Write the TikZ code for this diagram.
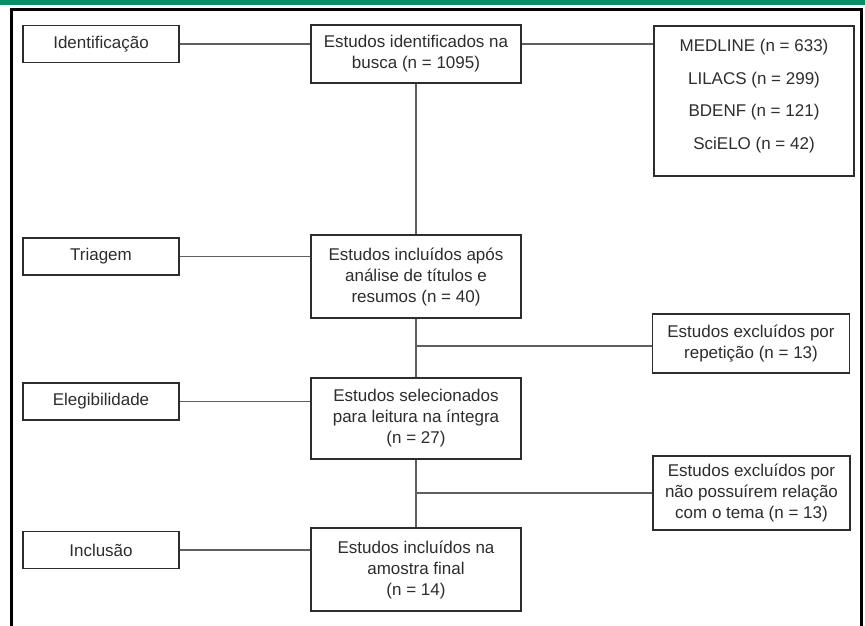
\documentclass[tikz,border=0pt]{standalone}
\usepackage{fontspec}
\setmainfont{Liberation Sans}
\definecolor{topgreen}{RGB}{8,143,104}
\definecolor{txt}{RGB}{45,45,45}
\definecolor{boxline}{RGB}{45,45,45}
\definecolor{connc}{RGB}{95,95,95}
\begin{document}
\begin{tikzpicture}[x=1pt,y=-1pt,
  box/.style={draw=boxline, line width=1.4pt, text=txt, align=center, inner sep=0pt,
    font=\fontsize{17}{21}\selectfont},
  lbl/.style={box, minimum width=156pt, minimum height=37pt},
  mid/.style={box, minimum width=210pt},
  side/.style={box, minimum width=197pt},
  conn/.style={draw=connc, line width=1.2pt}]
\useasboundingbox (0,0) rectangle (865,626);
\fill[white] (0,0) rectangle (865,626);
\fill[topgreen] (0,0) rectangle (865,5.5);
\draw[line width=2.6pt, black] (11.5,626) -- (11.5,9.5) -- (861.5,9.5) -- (861.5,626);

\node[lbl] (id) at (101,44) {Identificação};
\node[mid, minimum height=58pt] (busca) at (416,54) {Estudos identificados na\\busca (n = 1095)};
\node[box, minimum width=200pt, minimum height=150pt] (src) at (754,101) {};
\node[text=txt, align=center, font=\fontsize{17}{32.7}\selectfont, inner sep=0pt] (srctxt) at (754,96)
  {MEDLINE (n = 633)\\LILACS (n = 299)\\BDENF (n = 121)\\SciELO (n = 42)};
\node[lbl] (tri) at (101,256.5) {Triagem};
\node[mid, minimum height=83pt] (inc1) at (416,276.5) {Estudos incluídos após\\análise de títulos e\\resumos (n = 40)};
\node[side, minimum height=59pt] (rep) at (751,343.5) {Estudos excluídos por\\repetição (n = 13)};
\node[lbl] (eleg) at (101,401.5) {Elegibilidade};
\node[mid, minimum height=81pt] (sel) at (416,418.5) {Estudos selecionados\\para leitura na íntegra\\(n = 27)};
\node[side, minimum height=74pt] (tema) at (751.5,493) {Estudos excluídos por\\não possuírem relação\\com o tema (n = 13)};
\node[lbl] (incl) at (101,550) {Inclusão};
\node[mid, minimum height=83pt] (fin) at (416,569.5) {Estudos incluídos na\\amostra final\\(n = 14)};

\draw[conn] (id.east) -- (id.east -| busca.west);
\draw[conn] (busca.east |- id.east) -- (src.west |- id.east);
\draw[conn] (tri.east) -- (tri.east -| inc1.west);
\draw[conn] (eleg.east) -- (eleg.east -| sel.west);
\draw[conn] (incl.east) -- (incl.east -| fin.west);
\draw[conn] (busca.south) -- (inc1.north);
\draw[conn] (inc1.south) -- (sel.north);
\draw[conn] (sel.south) -- (fin.north);
\coordinate (b1) at (416,346);
\coordinate (b2) at (416,493);
\draw[conn] (b1) -- (b1 -| rep.west);
\draw[conn] (b2) -- (b2 -| tema.west);
\end{tikzpicture}
\end{document}
